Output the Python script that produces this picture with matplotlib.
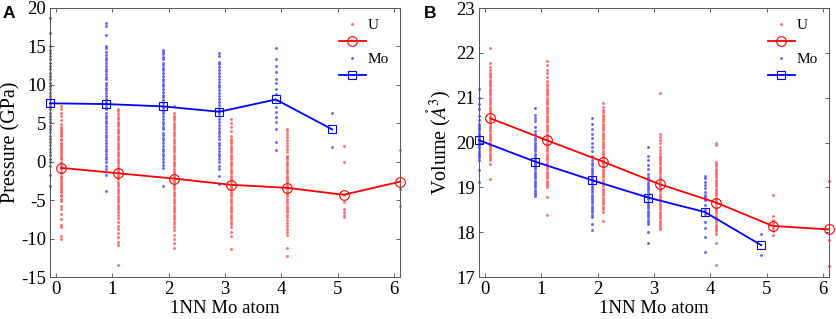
import matplotlib
matplotlib.use("Agg")
import matplotlib.pyplot as plt

plt.rcParams['font.family'] = ['Liberation Serif', 'DejaVu Serif']
plt.rcParams['mathtext.fontset'] = 'stix'
plt.rcParams['axes.unicode_minus'] = False

x_mo = [0, 1, 2, 3, 4, 5, 6]

# Pressure (GPa) per 1NN Mo count
p_u = [
    [7.3, 6.8, 6.4, 5.9, 5.4, 4.9, 4.5, 4.3, 4.0, 3.8, 3.5, 3.3, 3.0, 2.8, 2.5, 2.3, 2.0, 1.8, 1.5, 1.3, 1.0,
     0.8, 0.5, 0.3, 0.0, -0.3, -0.5, -0.8, -1.0, -1.3, -1.5, -1.8, -2.0, -2.3, -2.5, -2.8, -3.0, -3.3, -3.5,
     -3.8, -4.0, -4.3, -4.5, -4.8, -5.1, -5.7, -6.2, -6.8, -7.5, -8.2, -8.5, -9.7, -10.1],
    [6.9, 6.6, 6.2, 5.8, 5.5, 5.2, 4.9, 4.6, 4.3, 4.0, 3.7, 3.4, 3.1, 2.8, 2.5, 2.2, 1.9, 1.6, 1.3, 1.0, 0.7,
     0.4, 0.1, -0.2, -0.5, -0.8, -1.1, -1.4, -1.7, -2.0, -2.3, -2.6, -2.9, -3.2, -3.5, -3.8, -4.1, -4.4, -4.7,
     -5.0, -5.3, -5.6, -5.9, -6.2, -6.5, -6.9, -7.3, -7.9, -8.3, -8.8, -9.3, -9.8, -10.4, -10.8, -13.4],
    [7.3, 6.3, 6.0, 5.7, 5.4, 5.1, 4.8, 4.5, 4.2, 3.9, 3.6, 3.3, 3.0, 2.7, 2.4, 2.1, 1.8, 1.5, 1.2, 0.9, 0.6,
     0.3, 0.0, -0.3, -0.6, -0.9, -1.2, -1.5, -1.8, -2.1, -2.4, -2.7, -3.0, -3.3, -3.6, -3.9, -4.2, -4.5, -4.8,
     -5.1, -5.4, -5.7, -6.0, -6.3, -6.6, -6.9, -7.2, -7.5, -7.8, -8.1, -8.5, -8.9, -9.5, -10.0, -10.6, -11.2],
    [5.6, 5.1, 4.5, 4.0, 3.4, 3.0, 2.7, 2.4, 2.1, 1.8, 1.5, 1.2, 0.9, 0.6, 0.3, 0.0, -0.3, -0.6, -0.9, -1.2,
     -1.5, -1.8, -2.1, -2.4, -2.7, -3.0, -3.3, -3.6, -3.9, -4.2, -4.5, -4.8, -5.1, -5.4, -5.7, -6.0, -6.3,
     -6.6, -6.9, -7.2, -7.5, -7.8, -8.1, -8.5, -9.2, -9.7, -11.3],
    [4.3, 4.0, 3.6, 3.2, 2.8, 2.4, 2.0, 1.6, 1.2, 0.8, 0.6, 0.3, 0.0, -0.3, -0.6, -0.9, -1.2, -1.5, -1.8, -2.1,
     -2.4, -2.7, -3.0, -3.3, -3.6, -3.9, -4.2, -4.5, -4.8, -5.1, -5.4, -5.7, -6.0, -6.3, -6.6, -6.9, -7.2,
     -7.6, -8.0, -8.4, -8.8, -9.2, -9.5, -11.2, -12.3],
    [2.1, 0.0, -4.3, -5.3, -6.1, -6.5, -6.9, -7.2],
    [1.5, -3.5, -5.8],
]
p_mo = [
    [18.7, 16.8, 15.0, 14.6, 14.2, 13.7, 13.3, 12.9, 12.4, 12.0, 11.6, 11.1, 10.7, 10.3, 9.9, 9.4, 9.0, 8.6,
     8.1, 7.7, 7.3, 6.9, 6.4, 6.0, 5.6, 5.2, 4.7, 4.3, 3.9, 3.4, 3.0, 2.6, 2.2, 1.7, 1.3, 0.9, 0.4, 0.0, -0.5,
     -1.7, -3.1],
    [18.0, 17.6, 16.5, 15.1, 14.8, 14.3, 13.9, 13.5, 13.2, 12.8, 12.5, 12.1, 11.8, 11.4, 11.0, 10.7, 10.3, 10.0,
     9.6, 9.3, 8.9, 8.5, 8.2, 7.8, 7.5, 7.1, 6.8, 6.4, 6.0, 5.7, 5.3, 5.0, 4.6, 4.2, 3.9, 3.5, 3.2, 2.8, 2.4,
     2.1, 1.7, 1.4, 1.0, 0.6, 0.3, -0.1, -0.6, -1.0, -1.7, -3.8],
    [14.6, 14.3, 14.0, 13.6, 13.3, 12.9, 12.6, 12.2, 11.9, 11.5, 11.2, 10.8, 10.5, 10.1, 9.8, 9.4, 9.1, 8.7,
     8.4, 8.0, 7.7, 7.3, 7.0, 6.6, 6.3, 5.9, 5.6, 5.2, 4.9, 4.5, 4.2, 3.8, 3.5, 3.1, 2.8, 2.4, 2.1, 1.7, 1.4,
     1.0, 0.7, 0.3, 0.0, -0.4, -0.8, -3.1],
    [14.2, 13.8, 13.0, 12.7, 12.3, 11.9, 11.5, 11.2, 10.8, 10.4, 10.0, 9.7, 9.3, 8.9, 8.5, 8.2, 7.8, 7.4, 7.0,
     6.7, 6.3, 5.9, 5.5, 5.2, 4.8, 4.4, 4.0, 3.7, 3.3, 2.9, 2.5, 2.2, 1.8, 1.4, 1.0, 0.7, 0.3, -0.1, -0.5,
     -0.9, -1.9, -2.9],
    [14.8, 13.4, 12.5, 11.7, 10.8, 10.2, 9.5, 8.8, 8.0, 7.1, 6.5, 5.8, 5.2, 4.2, 2.6, 1.5],
    [6.4, 1.9],
]
p_u_mean = [-0.8, -1.5, -2.2, -3.0, -3.4, -4.3, -2.6]
p_mo_mean = [7.6, 7.5, 7.2, 6.5, 8.1, 4.2]

# Volume (A^3) per 1NN Mo count
v_u = [
    [22.1, 21.77, 21.68, 21.62, 21.55, 21.5, 21.45, 21.4, 21.35, 21.3, 21.25, 21.2, 21.15, 21.1, 21.05, 21.0,
     20.95, 20.9, 20.85, 20.8, 20.75, 20.7, 20.65, 20.6, 20.55, 20.5, 20.45, 20.4, 20.35, 20.3, 20.25, 20.2,
     20.15, 20.1, 20.05, 20.0, 19.95, 19.9, 19.85, 19.8, 19.75, 19.7, 19.65, 19.6, 19.53, 19.18],
    [21.82, 21.72, 21.62, 21.55, 21.45, 21.38, 21.3, 21.25, 21.2, 21.15, 21.1, 21.05, 21.0, 20.95, 20.9, 20.85,
     20.8, 20.75, 20.7, 20.65, 20.6, 20.55, 20.5, 20.45, 20.4, 20.35, 20.3, 20.25, 20.2, 20.15, 20.1, 20.05,
     20.0, 19.95, 19.9, 19.85, 19.8, 19.75, 19.7, 19.65, 19.6, 19.55, 19.5, 19.45, 19.4, 19.35, 19.3, 19.25,
     19.2, 19.15, 19.1, 19.05, 19.0, 18.79, 18.38],
    [20.89, 20.8, 20.72, 20.67, 20.62, 20.57, 20.52, 20.47, 20.42, 20.37, 20.32, 20.27, 20.22, 20.17, 20.12,
     20.07, 20.02, 19.97, 19.92, 19.87, 19.82, 19.77, 19.72, 19.67, 19.62, 19.57, 19.52, 19.47, 19.42, 19.37,
     19.32, 19.27, 19.22, 19.17, 19.12, 19.07, 19.02, 18.97, 18.92, 18.87, 18.82, 18.77, 18.72, 18.67, 18.62,
     18.57, 18.52, 18.45, 18.25],
    [21.11, 20.2, 20.12, 20.05, 19.98, 19.9, 19.83, 19.76, 19.71, 19.66, 19.61, 19.56, 19.51, 19.46, 19.41,
     19.36, 19.31, 19.26, 19.21, 19.16, 19.11, 19.06, 19.01, 18.96, 18.91, 18.86, 18.81, 18.76, 18.71, 18.66,
     18.61, 18.56, 18.51, 18.46, 18.41, 18.36, 18.31, 18.26, 18.21, 18.16, 18.12, 18.08],
    [19.98, 19.95, 19.57, 19.52, 19.47, 19.42, 19.37, 19.32, 19.27, 19.22, 19.17, 19.12, 19.07, 19.02, 18.97,
     18.92, 18.87, 18.82, 18.77, 18.72, 18.67, 18.62, 18.57, 18.52, 18.47, 18.42, 18.37, 18.32, 18.27, 18.22,
     18.17, 18.12, 18.07, 18.02, 17.97, 17.75, 17.26],
    [18.84, 18.35, 18.28, 18.2, 18.1, 18.02, 17.93],
    [19.15, 17.82, 17.24],
]
v_mo = [
    [21.2, 21.0, 20.85, 20.75, 20.6, 20.5, 20.42, 20.37, 20.32, 20.27, 20.22, 20.17, 20.12, 20.07, 20.02, 19.97,
     19.92, 19.87, 19.82, 19.77, 19.72, 19.67, 19.62, 19.38, 19.12],
    [20.76, 20.62, 20.55, 20.48, 20.35, 20.25, 20.18, 20.1, 20.05, 20.0, 19.95, 19.9, 19.85, 19.8, 19.75, 19.7,
     19.65, 19.6, 19.55, 19.5, 19.45, 19.4, 19.35, 19.3, 19.25, 19.2, 19.15, 19.1, 19.05, 19.0, 18.95, 18.9,
     18.85, 18.8],
    [20.54, 20.42, 20.3, 20.2, 20.1, 20.0, 19.9, 19.8, 19.7, 19.62, 19.54, 19.49, 19.44, 19.39, 19.34, 19.29,
     19.24, 19.19, 19.14, 19.09, 19.04, 18.99, 18.94, 18.89, 18.84, 18.79, 18.74, 18.69, 18.64, 18.59, 18.54,
     18.49, 18.44, 18.39, 18.34, 18.18, 18.04],
    [19.9, 19.7, 19.6, 19.5, 19.4, 19.3, 19.23, 19.18, 19.13, 19.08, 19.03, 18.98, 18.93, 18.88, 18.83, 18.78,
     18.73, 18.68, 18.63, 18.58, 18.53, 18.48, 18.43, 18.38, 18.33, 18.28, 18.23, 18.19, 18.0, 17.76],
    [19.26, 19.2, 19.12, 19.05, 18.98, 18.9, 18.84, 18.78, 18.71, 18.6, 18.5, 18.4, 18.23, 18.1, 17.9, 17.56],
    [17.95, 17.49],
]
v_u_mean = [20.54, 20.05, 19.57, 19.07, 18.66, 18.14, 18.06]
v_mo_mean = [20.05, 19.57, 19.16, 18.77, 18.45, 17.71]

fig = plt.figure(figsize=(8.37, 3.19), dpi=100)
axA = fig.add_axes([50 / 837, 1 - 277 / 319, 350 / 837, 269 / 319])
axB = fig.add_axes([479 / 837, 1 - 277 / 319, 350 / 837, 269 / 319])

FS = 13.5


def draw(ax, u_pts, mo_pts, u_mean, mo_mean):
    for i, vals in enumerate(u_pts):
        hu, = ax.plot([x_mo[i] + 0.1] * len(vals), vals, ls='none', marker='o', ms=2.1,
                      mec='none', mfc=(1, 0.3, 0.3), alpha=0.8, zorder=2, clip_on=False)
    for i, vals in enumerate(mo_pts):
        hm, = ax.plot([x_mo[i] - 0.1] * len(vals), vals, ls='none', marker='o', ms=2.1,
                      mec='none', mfc=(0.25, 0.25, 1), alpha=0.8, zorder=2, clip_on=False)
    xu = [x + 0.1 for x in x_mo[:len(u_mean)]]
    xm = [x - 0.1 for x in x_mo[:len(mo_mean)]]
    lu, = ax.plot(xu, u_mean, color='red', lw=1.3, marker='o', ms=7, mfc='none', mew=0.8,
                  zorder=3, clip_on=False)
    lm, = ax.plot(xm, mo_mean, color='blue', lw=1.3, marker='s', ms=5.5, mfc='none', mew=0.8,
                  zorder=3, clip_on=False)
    ax.set_xlim(-0.1, 6.1)
    ax.set_xticks(x_mo)
    ax.tick_params(direction='in', top=True, right=True, labelsize=FS, length=3, width=0.6,
                   color='#444444', pad=3)
    for s in ax.spines.values():
        s.set_color('#555555')
        s.set_linewidth(0.7)
    ax.set_xlabel('1NN Mo atom', fontsize=FS, labelpad=1)
    ax.legend([hu, lu, hm, lm], ['U', '', 'Mo', ''], loc='upper right', frameon=False,
              numpoints=1, fontsize=11, handlelength=1.75, labelspacing=0.22,
              handletextpad=0.15, borderaxespad=0.2, bbox_to_anchor=(0.995, 0.995))


draw(axA, p_u, p_mo, p_u_mean, p_mo_mean)
axA.set_ylim(-15, 20)
axA.set_yticks([-15, -10, -5, 0, 5, 10, 15, 20])
axA.set_ylabel('Pressure (GPa)', fontsize=14.5, labelpad=0)

draw(axB, v_u, v_mo, v_u_mean, v_mo_mean)
axB.set_ylim(17, 23)
axB.set_yticks([17, 18, 19, 20, 21, 22, 23])
axB.set_ylabel(r'Volume ($\mathring{A}^3$)', fontsize=14.5, labelpad=2)

fig.text(3 / 837, 1 - 13.5 / 319, 'A', fontsize=12.5, fontweight='bold', family='Liberation Sans', va='center')
fig.text(424 / 837, 1 - 13.5 / 319, 'B', fontsize=12.5, fontweight='bold', family='Liberation Sans', va='center')

fig.savefig('out.png', dpi=100)
